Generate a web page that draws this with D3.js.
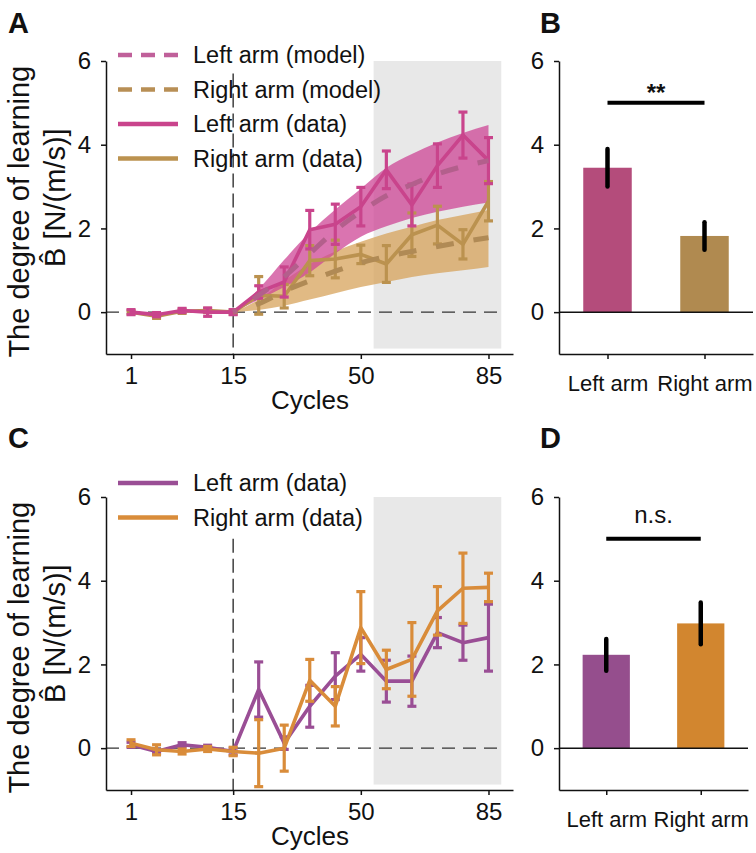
<!DOCTYPE html>
<html lang="en">
<head>
<meta charset="UTF-8">
<title>Degree of learning</title>
<script src="https://d3js.org/d3.v7.min.js"></script>
<style>
  body { margin: 0; background: #fff; }
  svg text { font-family: "Liberation Sans", Arial, sans-serif; fill: #111; }
</style>
</head>
<body>
<div id="chart"></div>
<script>
// cycle tick labels (placed at point index 0, 4, 9, 14)
const cycleTicks = [0, 4, 9, 14];
const cycleLabels = ["1", "15", "50", "85"];

// Panel A: data (mean, sem)
const leftDataA  = [0.0, -0.06, 0.04, 0.0, 0.0, 0.48, 0.72, 1.97, 2.1, 2.52, 3.4, 2.56, 3.5, 4.23, 3.62];
const leftErrA   = [0.06, 0.05, 0.05, 0.1, 0.06, 0.15, 0.36, 0.46, 0.48, 0.46, 0.45, 0.5, 0.52, 0.55, 0.55];
const rightDataA = [0.0, -0.1, 0.02, 0.04, 0.0, 0.4, 0.38, 1.23, 1.27, 1.38, 1.15, 1.85, 2.08, 1.62, 2.65];
const rightErrA  = [0.04, 0.05, 0.05, 0.05, 0.05, 0.45, 0.28, 0.36, 0.45, 0.22, 0.44, 0.52, 0.45, 0.35, 0.47];

// Panel A: model (from index 4 on), with band
const leftModelA  = [0, 0.4, 0.85, 1.4, 1.95, 2.4, 2.78, 3.05, 3.3, 3.48, 3.62];
const leftUpperA  = [0, 0.55, 1.25, 1.9, 2.45, 2.95, 3.45, 3.78, 4.05, 4.28, 4.47];
const leftLowerA  = [0, 0.3, 0.6, 0.95, 1.4, 1.8, 2.05, 2.25, 2.4, 2.52, 2.62];
const rightModelA = [0, 0.2, 0.5, 0.75, 0.98, 1.18, 1.33, 1.45, 1.57, 1.68, 1.78];
const rightUpperA = [0, 0.3, 0.75, 1.15, 1.45, 1.68, 1.88, 2.04, 2.2, 2.32, 2.44];
const rightLowerA = [0, 0.05, 0.15, 0.3, 0.45, 0.6, 0.72, 0.84, 0.93, 1.0, 1.08];
const modelStart = 4;

// Panel C: data (mean, sem)
const leftDataC  = [0.08, -0.08, 0.08, 0.02, -0.08, 1.4, 0.12, 1.0, 1.72, 2.24, 1.6, 1.6, 2.76, 2.52, 2.64];
const leftErrC   = [0.06, 0.05, 0.05, 0.05, 0.08, 0.66, 0.15, 0.5, 0.56, 0.4, 0.5, 0.6, 0.36, 0.42, 0.8];
const rightDataC = [0.12, -0.04, -0.08, -0.02, -0.08, -0.12, 0.0, 1.62, 1.0, 2.88, 1.88, 2.12, 3.28, 3.82, 3.84];
const rightErrC  = [0.08, 0.12, 0.06, 0.06, 0.1, 0.8, 0.55, 0.5, 0.47, 0.86, 0.46, 0.88, 0.58, 0.84, 0.34];

// Panels B and D: bars
const barLabels = ["Left arm", "Right arm"];
const barB = [3.45, 1.82];
const errB = [0.45, 0.33];
const barD = [2.23, 2.98];
const errD = [0.38, 0.5];

const yTicks = [0, 2, 4, 6];

const svg = d3.select("#chart").append("svg")
    .attr("width", 756)
    .attr("height", 853);

function yScale(top, bottom) {
    return d3.scaleLinear().domain([-1, 6]).range([bottom, top]);
}

function leftAxis(g, y) {
    g.call(d3.axisLeft(y).tickValues(yTicks).tickFormat(d3.format("d"))
            .tickSize(5).tickSizeOuter(0).tickPadding(10))
     .call(g => g.selectAll("path,line").attr("stroke", "#111").attr("stroke-width", 1.5))
     .call(g => g.selectAll("text").style("font-size", "24px"));
}

function linePanel(opt) {
    const x = d3.scaleLinear().domain([-0.98, 14.96]).range([106, 513]);
    const y = yScale(opt.top, opt.bottom);
    const g = svg.append("g");

    // grey window (last cycles)
    g.append("rect")
        .attr("x", x(9.5)).attr("y", y(6))
        .attr("width", x(14.5) - x(9.5))
        .attr("height", y(-0.87) - y(6))
        .attr("fill", "#e8e8e8");

    g.append("line")
        .attr("x1", x(-0.98)).attr("x2", x(14.6))
        .attr("y1", y(0)).attr("y2", y(0))
        .attr("stroke", "#333").attr("stroke-width", 1.4)
        .attr("stroke-dasharray", "13,8");

    g.append("line")
        .attr("x1", x(4)).attr("x2", x(4))
        .attr("y1", y(opt.vTop)).attr("y2", y(-1))
        .attr("stroke", "#333").attr("stroke-width", 1.4)
        .attr("stroke-dasharray", "14,6");

    // model bands
    (opt.bands || []).forEach(b => {
        const area = d3.area()
            .x((d, i) => x(i + modelStart))
            .y0((d, i) => y(b.lower[i]))
            .y1(d => y(d))
            .curve(d3.curveMonotoneX);
        g.append("path").datum(b.upper)
            .attr("d", area)
            .attr("fill", b.color);
    });

    // data lines with error bars
    opt.series.forEach(s => {
        const line = d3.line().x((d, i) => x(i)).y(d => y(d));
        g.append("path").datum(s.values)
            .attr("d", line)
            .attr("fill", "none")
            .attr("stroke", s.color)
            .attr("stroke-width", 3.6)
            .attr("stroke-linejoin", "round");
        const eb = g.append("g").selectAll("g")
            .data(s.values.map((v, i) => ({i, v, e: s.err[i]})))
            .enter().append("g")
            .attr("stroke", s.color)
            .attr("stroke-width", 3.2);
        eb.append("line")
            .attr("x1", d => x(d.i)).attr("x2", d => x(d.i))
            .attr("y1", d => y(d.v - d.e)).attr("y2", d => y(d.v + d.e));
        eb.append("line")
            .attr("x1", d => x(d.i) - 4.5).attr("x2", d => x(d.i) + 4.5)
            .attr("y1", d => y(d.v + d.e)).attr("y2", d => y(d.v + d.e));
        eb.append("line")
            .attr("x1", d => x(d.i) - 4.5).attr("x2", d => x(d.i) + 4.5)
            .attr("y1", d => y(d.v - d.e)).attr("y2", d => y(d.v - d.e));
    });

    // model dashed lines
    (opt.models || []).forEach(m => {
        const line = d3.line().x((d, i) => x(i + modelStart)).y(d => y(d)).curve(d3.curveMonotoneX);
        g.append("path").datum(m.values)
            .attr("d", line)
            .attr("fill", "none")
            .attr("stroke", m.color)
            .attr("stroke-width", 5)
            .attr("stroke-dasharray", "18,20")
            .attr("stroke-dashoffset", -24);
    });

    // axes
    g.append("g").attr("transform", "translate(106,0)").call(a => leftAxis(a, y));
    g.append("g").attr("transform", `translate(0,${opt.bottom})`)
        .call(d3.axisBottom(x).tickValues(cycleTicks)
            .tickFormat((d, i) => cycleLabels[i])
            .tickSize(5).tickSizeOuter(0).tickPadding(8))
        .call(a => a.selectAll("path,line").attr("stroke", "#111").attr("stroke-width", 1.5))
        .call(a => a.selectAll("text").style("font-size", "24px"));

    g.append("text")
        .attr("x", 310).attr("y", opt.bottom + 55)
        .attr("text-anchor", "middle")
        .style("font-size", "26px")
        .text("Cycles");

    // legend
    opt.legend.forEach((l, i) => {
        const ly = opt.legendY + i * 34.5;
        g.append("line")
            .attr("x1", 118).attr("x2", 178)
            .attr("y1", ly).attr("y2", ly)
            .attr("stroke", l.color)
            .attr("stroke-width", 4.5)
            .attr("stroke-dasharray", l.dashed ? "14,9" : null);
        g.append("text")
            .attr("x", 193).attr("y", ly)
            .attr("dy", "0.36em")
            .style("font-size", "23.5px")
            .text(l.label);
    });

    // y label
    const mid = y(2.4);
    g.append("text")
        .attr("transform", `translate(29,${mid}) rotate(-90)`)
        .attr("text-anchor", "middle")
        .style("font-size", "29px")
        .text("The degree of learning");
    g.append("text")
        .attr("transform", `translate(65,${mid - 14}) rotate(-90)`)
        .attr("text-anchor", "middle")
        .style("font-size", "29px")
        .text("B\u0302 [N/(m/s)]");
}

function barPanel(opt) {
    const x = d3.scalePoint().domain(barLabels).range([559, opt.right]).padding(0.5);
    const y = yScale(opt.top, opt.bottom);
    const bw = x.step() * 0.5;
    const g = svg.append("g");

    g.selectAll(".bar")
        .data(opt.values)
        .enter().append("rect")
        .attr("x", (d, i) => x(barLabels[i]) - bw / 2)
        .attr("y", d => y(d))
        .attr("width", bw)
        .attr("height", d => y(0) - y(d))
        .attr("fill", (d, i) => opt.colors[i]);

    g.selectAll(".err")
        .data(opt.values)
        .enter().append("line")
        .attr("x1", (d, i) => x(barLabels[i])).attr("x2", (d, i) => x(barLabels[i]))
        .attr("y1", (d, i) => y(d - opt.err[i])).attr("y2", (d, i) => y(d + opt.err[i]))
        .attr("stroke", "#000").attr("stroke-width", 4.5)
        .attr("stroke-linecap", "round");

    g.append("line")
        .attr("x1", 559).attr("x2", opt.right)
        .attr("y1", y(0)).attr("y2", y(0))
        .attr("stroke", "#111").attr("stroke-width", 1.5);

    g.append("line")
        .attr("x1", x(barLabels[0])).attr("x2", x(barLabels[1]))
        .attr("y1", y(5)).attr("y2", y(5))
        .attr("stroke", "#000").attr("stroke-width", 4);
    g.append("text")
        .attr("x", (x(barLabels[0]) + x(barLabels[1])) / 2)
        .attr("y", y(5) + opt.sigDy)
        .attr("text-anchor", "middle")
        .style("font-size", "24px")
        .style("font-weight", opt.sigBold ? "bold" : "normal")
        .text(opt.sig);

    g.append("g").attr("transform", "translate(559,0)").call(a => leftAxis(a, y));
    g.append("g").attr("transform", `translate(0,${opt.bottom})`)
        .call(d3.axisBottom(x).tickSize(5).tickSizeOuter(0).tickPadding(16))
        .call(a => a.selectAll("path,line").attr("stroke", "#111").attr("stroke-width", 1.5))
        .call(a => a.selectAll("text").style("font-size", "22px"));
}

linePanel({
    top: 61, bottom: 354, vTop: 5.7, legendY: 55,
    bands: [
        {upper: rightUpperA, lower: rightLowerA, color: "rgba(214,160,85,0.72)"},
        {upper: leftUpperA, lower: leftLowerA, color: "rgba(205,70,150,0.75)"}
    ],
    series: [
        {values: rightDataA, err: rightErrA, color: "#bb924f"},
        {values: leftDataA, err: leftErrA, color: "#c9448c"}
    ],
    models: [
        {values: rightModelA, color: "#b08a55"},
        {values: leftModelA, color: "#b35f8c"}
    ],
    legend: [
        {label: "Left arm (model)", color: "#c0609a", dashed: true},
        {label: "Right arm (model)", color: "#b88f55", dashed: true},
        {label: "Left arm (data)", color: "#c9448c", dashed: false},
        {label: "Right arm (data)", color: "#bb924f", dashed: false}
    ]
});

linePanel({
    top: 497, bottom: 790, vTop: 5.0, legendY: 483,
    series: [
        {values: leftDataC, err: leftErrC, color: "#9a4e95"},
        {values: rightDataC, err: rightErrC, color: "#d98c3a"}
    ],
    legend: [
        {label: "Left arm (data)", color: "#9a4e95", dashed: false},
        {label: "Right arm (data)", color: "#d98c3a", dashed: false}
    ]
});

barPanel({top: 61, bottom: 354, right: 753, values: barB, err: errB,
    colors: ["#b44c7b", "#b08a50"], sig: "**", sigBold: true, sigDy: -2});
barPanel({top: 497, bottom: 790, right: 748, values: barD, err: errD,
    colors: ["#954e8d", "#d2862f"], sig: "n.s.", sigBold: false, sigDy: -16});

// panel letters
[["A", 8, 33], ["B", 540, 33], ["C", 8, 448], ["D", 540, 448]].forEach(p => {
    svg.append("text")
        .attr("x", p[1]).attr("y", p[2])
        .style("font-size", "29px")
        .style("font-weight", "bold")
        .text(p[0]);
});
</script>
</body>
</html>
